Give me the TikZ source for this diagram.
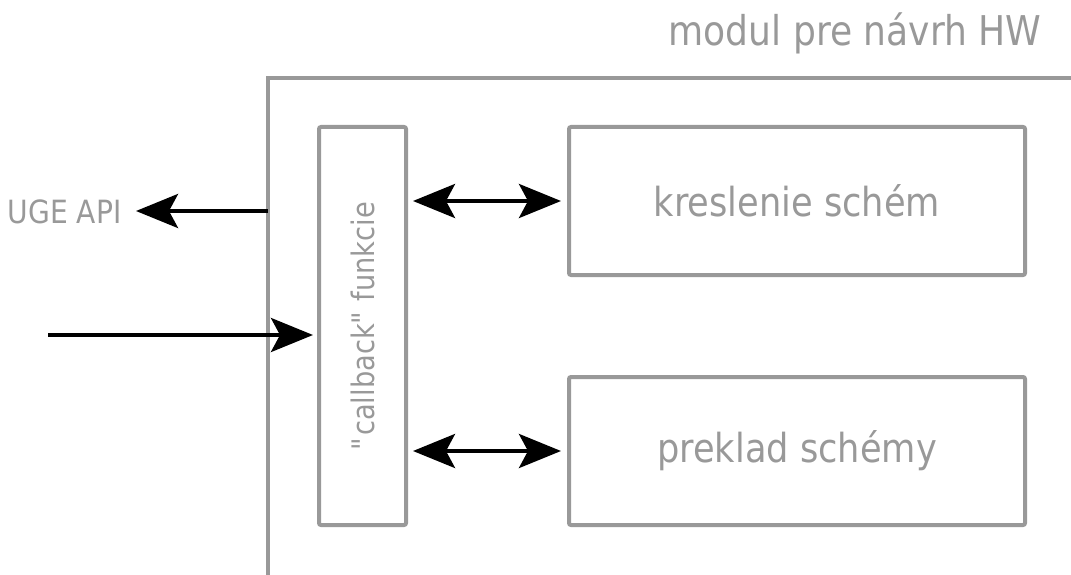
\documentclass[tikz,border=0pt]{standalone}
\usepackage{fontspec}
\setmainfont{DejaVu Sans}[FakeStretch=0.88]
\usetikzlibrary{arrows.meta}
\definecolor{framegray}{RGB}{153,153,153}

\begin{document}
\begin{tikzpicture}[x=1pt, y=-1pt, every node/.style={text=framegray},
    block/.style={draw=framegray, line width=4pt, rounded corners=2pt, inner sep=0pt},
    conn/.style={line width=4pt, -{Stealth[length=42pt,width=34pt,inset=9pt]}},
    biconn/.style={line width=4pt, {Stealth[length=42pt,width=34pt,inset=9pt]}-{Stealth[length=42pt,width=34pt,inset=9pt]}}]
    \useasboundingbox (0,0) rectangle (1071,575);
    % module frame
    \draw[framegray, line width=4pt] (268,575) -- (268,78) -- (1075,78);
    \node[anchor=base east, font=\fontsize{41}{46}\selectfont] (title) at (1045,46) {modul pre návrh HW};
    % blocks
    \node[block, minimum width=87pt, minimum height=398pt,
      label={[rotate=90, font=\fontsize{31}{36}\selectfont, text=framegray]center:\textquotedbl callback\textquotedbl{} funkcie}] (cb) at (362.5,326) {};
    \node[block, minimum width=456pt, minimum height=148pt, font=\fontsize{40}{46}\selectfont] (kr) at (797,201) {kreslenie schém};
    \node[block, minimum width=456pt, minimum height=148pt, font=\fontsize{40}{46}\selectfont] (pr) at (797,451) {preklad schémy};
    \draw[biconn, shorten <=5pt, shorten >=6pt] (cb.east |- kr.west) -- (kr.west);
    \draw[biconn, shorten <=5pt, shorten >=6pt] (cb.east |- pr.west) -- (pr.west);
    % outside
    \node[anchor=base east, font=\fontsize{32}{36}\selectfont] (api) at (125,223) {UGE API};
    \coordinate (apiout) at (268,211);
    \coordinate (in) at (48,335);
    \draw[conn, shorten >=11pt] (apiout) -- (apiout -| api.east);
    \draw[conn, shorten >=4pt] (in) -- (in -| cb.west);
\end{tikzpicture}
\end{document}
